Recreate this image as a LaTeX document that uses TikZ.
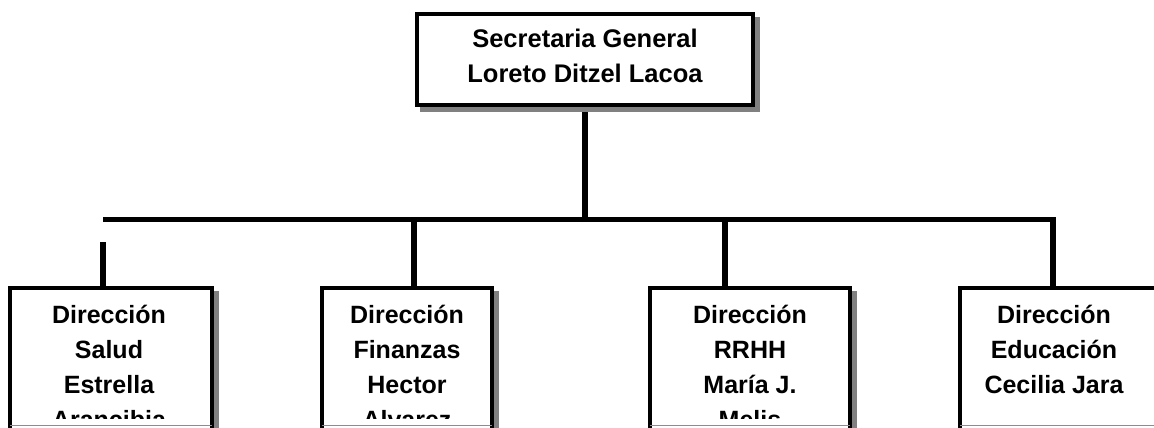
\documentclass[tikz,border=0pt]{standalone}
\usepackage{fontspec}
\setmainfont{Liberation Sans}
\usetikzlibrary{shadows}
\begin{document}
\begin{tikzpicture}[x=1pt,y=-1pt,
  box/.style={draw=black, fill=white, line width=4pt, inner sep=0pt,
    general shadow={fill=black!50, draw=black!50, line width=4pt,
      shadow xshift=5pt, shadow yshift=-5pt}},
  lbl/.style={align=center, inner sep=0pt, anchor=north,
    font=\fontsize{25}{35}\selectfont\bfseries},
  toplbl/.style={lbl, font=\fontsize{25.5}{35}\selectfont\bfseries},
  bus/.style={line width=5pt},
  drop/.style={line width=6pt},
  rim/.style={draw=black!45, line width=1.5pt}]
\useasboundingbox (0,0) rectangle (1154,428);
\clip (0,0) rectangle (1154,428);
% connectors
\coordinate (busL) at (103,219.5);
\coordinate (busR) at (1053,219.5);
\coordinate (k1) at (103,242);
\coordinate (k2) at (414,219.5);
\coordinate (k3) at (725,219.5);
\coordinate (k4) at (1053,219.5);
\path (585,59.5) node[minimum width=336pt, minimum height=91pt, inner sep=0pt] (sgpos) {};
\draw[bus] (busL) -- (busR);
\draw[drop] (sgpos.south) -- (sgpos.south |- busL);
\draw[drop] (k1) -- ++(0,48);
\draw[drop] (k2) -- ++(0,70);
\draw[drop] (k3) -- ++(0,70);
\draw[drop] ([yshift=2.5pt]k4) -- ++(0,70);
% boxes
\node[box, minimum width=336pt, minimum height=91pt] (sg) at (585,59.5) {};
\node[box, minimum width=202pt, minimum height=182pt] (s1) at (111,379) {};
\node[box, minimum width=170pt, minimum height=182pt] (s2) at (406.5,379) {};
\node[box, minimum width=200pt, minimum height=182pt] (s3) at (749.5,379) {};
\node[box, minimum width=200pt, minimum height=182pt] (s4) at (1060,379) {};
% texts
\node[toplbl] (t0) at (585,21) {\rule{0pt}{26pt}Secretaria General\\Loreto Ditzel Lacoa};
\begin{scope}
\clip (s1.north west) rectangle (s1.east |- 0,418);
\node[lbl] (t1) at (109,298) {\rule{0pt}{25pt}Dirección\\Salud\\Estrella\\Arancibia};
\end{scope}
\begin{scope}
\clip (s2.north west) rectangle (s2.east |- 0,418);
\node[lbl] (t2) at (407,298) {\rule{0pt}{25pt}Dirección\\Finanzas\\Hector\\Alvarez};
\end{scope}
\begin{scope}
\clip (s3.north west) rectangle (s3.east |- 0,418);
\node[lbl] (t3) at (750,298) {\rule{0pt}{25pt}Dirección\\RRHH\\María J.\\Melis};
\end{scope}
\node[lbl] (t4) at (1054,298) {\rule{0pt}{25pt}Dirección\\Educación\\Cecilia Jara};
% lower rims
\foreach \b in {s1,s2,s3,s4}{
  \draw[rim] ([xshift=2pt]\b.west |- 0,425.5) -- ([xshift=-2pt]\b.east |- 0,425.5);
}
\end{tikzpicture}
\end{document}
